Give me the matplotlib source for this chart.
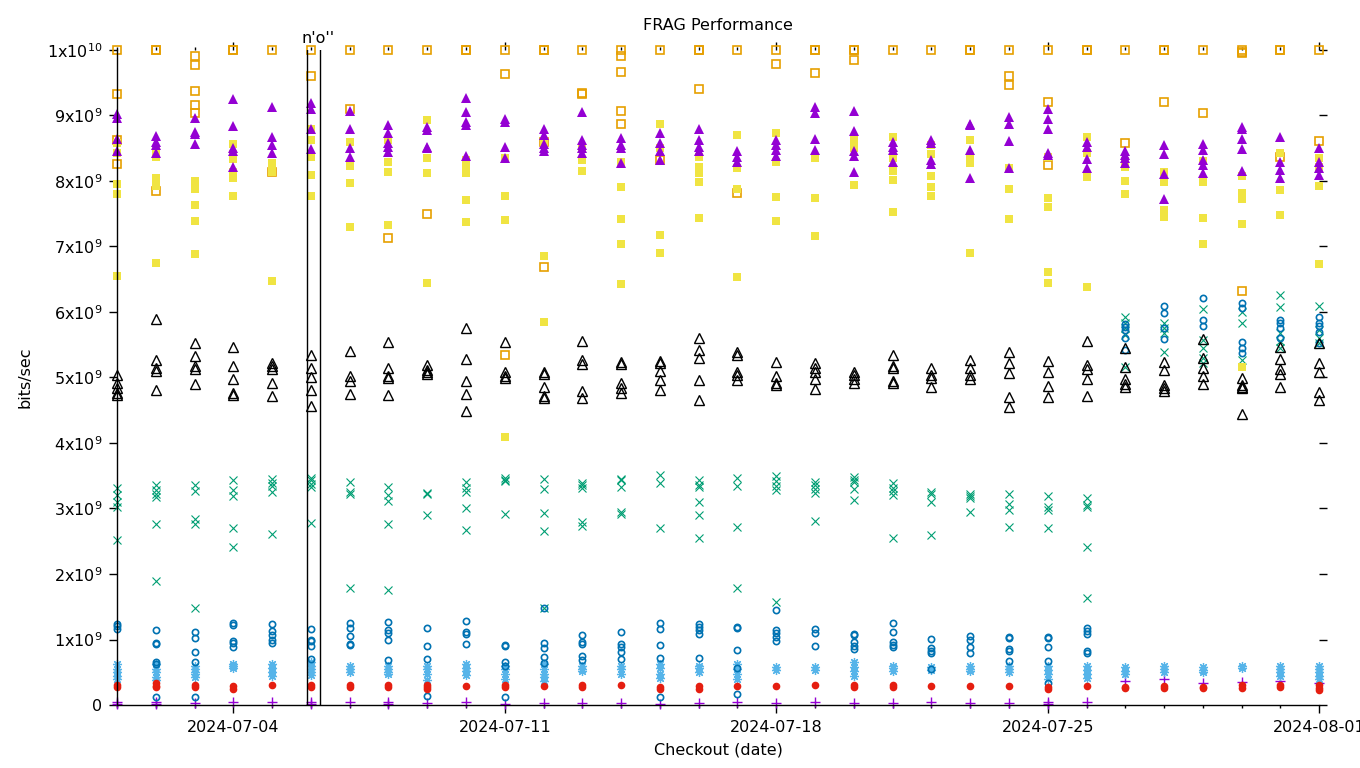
import numpy as np
import matplotlib
matplotlib.use("Agg")
import matplotlib.pyplot as plt
import matplotlib.dates as mdates
from datetime import datetime, timedelta

# one entry per checkout day, 2024-07-01 .. 2024-08-01, values in units of 1e9 bits/sec
days = [datetime(2024, 7, 1) + timedelta(days=i) for i in range(32)]

plus_purple = [[0.04, 0.02], [0.05, 0.02], [0.03], [0.04], [0.04], [0.04, 0.02], [0.04], [0.05, 0.02],
               [0.03], [0.05], [0.02], [0.03], [0.03], [0.03], [0.02], [0.03], [0.04], [0.03], [0.04],
               [0.03], [0.03], [0.04], [0.03], [0.03], [0.02, 0.04], [0.05], [0.37], [0.4], [0.34],
               [0.35], [0.37], [0.33]]

x_green = [[3.31, 3.2, 3.1, 3.03, 2.52], [3.36, 3.28, 3.22, 3.18, 2.76, 1.89], [3.36, 3.26, 2.84, 2.77, 1.48],
           [3.44, 3.28, 3.19, 2.7, 2.41], [3.45, 3.39, 3.35, 3.25, 2.61], [3.46, 3.43, 3.38, 3.33, 2.78],
           [3.4, 3.25, 3.22, 1.79], [3.33, 3.2, 3.12, 2.76, 1.76], [3.24, 3.22, 2.9],
           [3.4, 3.32, 3.25, 3.0, 2.67], [3.47, 3.44, 3.42, 2.92], [3.45, 3.3, 2.93, 2.66, 1.48],
           [3.39, 3.36, 3.31, 2.79, 2.74], [3.45, 3.43, 3.33, 2.94, 2.92], [3.51, 3.39, 2.7],
           [3.44, 3.36, 3.33, 3.1, 2.9, 2.55], [3.46, 3.35, 2.72, 1.79], [3.5, 3.42, 3.35, 3.28, 1.58],
           [3.4, 3.36, 3.3, 3.24, 2.81], [3.48, 3.44, 3.4, 3.3, 3.13], [3.39, 3.32, 3.26, 3.2, 2.55],
           [3.25, 3.22, 3.1, 2.6], [3.22, 3.19, 3.16, 2.95], [3.22, 3.07, 2.98, 2.72],
           [3.19, 3.02, 2.98, 2.7], [3.16, 3.05, 3.03, 2.41, 1.63], [5.93, 5.83, 5.75, 5.65, 5.16],
           [5.83, 5.75, 5.68, 5.39], [6.05, 5.57, 5.45, 5.3, 5.22], [6.0, 5.83, 5.27],
           [6.26, 6.08, 5.68, 5.55, 5.45], [6.09, 5.72, 5.6, 5.53]]

star_lightblue = [[0.63, 0.55, 0.5, 0.44, 0.4], [0.62, 0.55, 0.5, 0.43, 0.38], [0.6, 0.55, 0.5, 0.47, 0.43],
                  [0.63, 0.6, 0.56], [0.63, 0.56, 0.5, 0.44], [0.66, 0.6, 0.55, 0.5, 0.46], [0.6, 0.55, 0.5],
                  [0.6, 0.55, 0.5, 0.47], [0.6, 0.55, 0.48, 0.38], [0.63, 0.57, 0.52, 0.46],
                  [0.6, 0.55, 0.47, 0.4], [0.62, 0.55, 0.48, 0.43, 0.37], [0.6, 0.55, 0.52],
                  [0.6, 0.55, 0.48], [0.62, 0.56, 0.48, 0.42], [0.6, 0.56, 0.5], [0.62, 0.55, 0.47, 0.4],
                  [0.58, 0.54], [0.58, 0.53], [0.66, 0.58, 0.52, 0.45], [0.6, 0.56, 0.52], [0.58, 0.54],
                  [0.6, 0.55, 0.52], [0.6, 0.55, 0.5], [0.6, 0.54, 0.48, 0.4], [0.6, 0.53, 0.47, 0.42],
                  [0.58, 0.52, 0.48], [0.6, 0.55, 0.5], [0.58, 0.53, 0.5], [0.6, 0.56],
                  [0.6, 0.55, 0.5, 0.45], [0.6, 0.55, 0.5, 0.44, 0.4]]

sq_orange = [[10.0, 9.33, 8.62, 8.26], [10.0, 10.0, 7.85], [9.9, 9.77, 9.37, 9.16, 9.04], [10.0, 10.0],
             [10.0, 8.13], [10.0, 9.6], [10.0, 9.1], [10.0, 7.13], [10.0, 7.5], [10.0, 10.0],
             [10.0, 9.63, 5.34], [10.0, 10.0, 8.6, 6.69], [10.0, 9.35, 9.33], [10.0, 9.9, 9.66, 9.07, 8.87],
             [10.0, 8.32], [10.0, 10.0, 9.4], [10.0, 7.82], [10.0, 9.79], [10.0, 10.0, 9.65],
             [10.0, 10.0, 9.85], [10.0], [10.0], [10.0, 10.0], [10.0, 9.6, 9.47], [10.0, 9.2, 8.24],
             [10.0, 10.0], [10.0, 8.58], [10.0, 10.0, 9.2], [10.0, 9.04], [10.0, 9.97, 9.95, 6.32],
             [10.0, 10.0, 8.37], [10.0, 8.61]]

sq_yellow = [[8.58, 8.42, 7.95, 7.8, 6.55], [8.45, 8.37, 8.05, 7.92, 6.75], [8.0, 7.95, 7.88, 7.63, 7.39, 6.88],
             [8.56, 8.41, 8.33, 8.13, 8.05, 7.77], [8.27, 8.2, 8.14, 6.47], [8.8, 8.62, 8.37, 8.09, 7.77],
             [8.6, 8.23, 7.97, 7.3], [8.63, 8.29, 8.14, 7.33], [8.93, 8.35, 8.12, 6.44],
             [8.32, 8.22, 8.12, 7.71, 7.37], [8.35, 7.77, 7.4, 4.09], [8.6, 6.86, 5.85], [8.5, 8.32, 8.15],
             [8.29, 7.91, 7.42, 7.04, 6.43], [8.87, 8.5, 7.18, 6.9], [8.37, 8.22, 8.12, 7.98, 7.44],
             [8.7, 8.2, 7.88, 6.54], [8.73, 8.29, 7.76, 7.39], [8.35, 7.74, 7.16], [8.62, 8.5, 7.94],
             [8.67, 8.35, 8.15, 8.02, 7.53], [8.55, 8.41, 8.08, 7.91, 7.77], [8.62, 8.35, 8.28, 6.9],
             [8.2, 7.88, 7.42], [8.37, 7.74, 7.6, 6.61, 6.44], [8.67, 8.42, 8.06, 6.38], [8.3, 8.22, 8.0, 7.8],
             [8.14, 7.99, 7.55, 7.45], [8.3, 7.98, 7.44, 7.04], [8.08, 7.82, 7.73, 7.34, 5.16],
             [8.42, 7.86, 7.48], [8.35, 8.22, 7.92, 6.73]]

circ_blue = [[1.24, 1.2, 1.16], [1.15, 0.95, 0.93, 0.66, 0.62, 0.12], [1.12, 1.02, 0.81, 0.66, 0.12],
             [1.25, 1.22, 0.98, 0.95, 0.88], [1.23, 1.13, 1.07, 0.99, 0.95], [1.16, 1.0, 0.97, 0.9, 0.7],
             [1.25, 1.18, 1.05, 0.93, 0.92], [1.27, 1.15, 1.1, 0.99, 0.69], [1.17, 0.9, 0.71, 0.14],
             [1.28, 1.12, 1.09, 0.93], [0.92, 0.9, 0.66, 0.6, 0.13], [1.48, 0.94, 0.87, 0.73, 0.64],
             [1.07, 0.96, 0.93, 0.75, 0.69], [1.11, 0.93, 0.89, 0.81, 0.7], [1.25, 1.16, 0.92, 0.72, 0.13],
             [1.24, 1.19, 1.14, 1.08, 0.72], [1.19, 1.17, 0.84, 0.56, 0.17], [1.45, 1.15, 1.1, 1.04, 0.97],
             [1.16, 1.1, 0.9], [1.09, 1.07, 0.96, 0.9, 0.85], [1.25, 1.11, 0.96, 0.92, 0.89],
             [1.01, 0.87, 0.82, 0.79, 0.55], [1.06, 1.0, 0.89, 0.8], [1.04, 1.02, 0.86, 0.83, 0.67],
             [1.04, 1.03, 0.89, 0.67, 0.34], [1.17, 1.13, 1.09, 0.82, 0.8], [5.82, 5.77, 5.72, 5.6, 5.42],
             [6.09, 5.98, 5.75, 5.58], [6.22, 5.87, 5.79], [6.13, 6.06, 5.54, 5.45, 5.37],
             [5.88, 5.83, 5.76, 5.6], [5.92, 5.83, 5.78, 5.7, 5.52]]

circ_red = [[0.3, 0.27], [0.33, 0.29, 0.27], [0.3, 0.27], [0.29, 0.25], [0.3], [0.3, 0.27], [0.3, 0.28],
            [0.31, 0.27], [0.3, 0.27, 0.25], [0.29], [0.3, 0.28], [0.29], [0.3, 0.28], [0.3], [0.28, 0.25],
            [0.29, 0.25], [0.29], [0.29], [0.3], [0.3, 0.28], [0.3, 0.27], [0.29], [0.29], [0.29],
            [0.28, 0.25], [0.29], [0.28, 0.26], [0.29, 0.26], [0.28, 0.26], [0.3, 0.26], [0.3, 0.27],
            [0.3, 0.26, 0.23]]

tri_black = [[5.04, 4.92, 4.84, 4.76, 4.73], [5.9, 5.26, 5.15, 5.1, 4.81], [5.52, 5.33, 5.17, 5.13, 4.9],
             [5.47, 5.18, 4.97, 4.77, 4.74], [5.22, 5.17, 5.13, 4.92, 4.71], [5.34, 5.15, 5.0, 4.81, 4.56],
             [5.41, 5.02, 4.94, 4.75], [5.54, 5.15, 5.02, 4.99, 4.73], [5.19, 5.12, 5.08, 5.05],
             [5.76, 5.28, 4.95, 4.75, 4.49], [5.54, 5.08, 5.02, 4.99], [5.08, 5.05, 4.86, 4.71, 4.68],
             [5.56, 5.27, 5.2, 4.8, 4.69], [5.24, 5.2, 4.92, 4.84, 4.77], [5.25, 5.22, 5.1, 4.96, 4.81],
             [5.6, 5.42, 5.3, 4.96, 4.66], [5.39, 5.34, 5.08, 5.04, 4.96], [5.24, 5.02, 4.92, 4.89],
             [5.22, 5.15, 5.08, 4.98, 4.82], [5.08, 5.04, 4.98, 4.92], [5.34, 5.17, 5.14, 4.95, 4.92],
             [5.15, 5.04, 4.99, 4.86], [5.27, 5.15, 5.04, 4.98], [5.39, 5.22, 5.07, 4.7, 4.55],
             [5.25, 5.08, 4.87, 4.7], [5.56, 5.19, 5.13, 4.98, 4.72], [5.45, 5.16, 4.98, 4.9, 4.86],
             [5.24, 5.12, 4.89, 4.84, 4.8], [5.58, 5.3, 5.15, 5.02, 4.9], [4.99, 4.88, 4.86, 4.84, 4.45],
             [5.47, 5.28, 5.13, 5.05, 4.86], [5.52, 5.22, 5.08, 4.78, 4.66]]

tri_purple = [[9.02, 8.96, 8.64, 8.46], [8.69, 8.6, 8.55, 8.42], [8.96, 8.75, 8.72, 8.56],
              [9.25, 8.84, 8.5, 8.46, 8.22], [9.13, 8.67, 8.55, 8.43], [9.19, 9.1, 8.8, 8.49],
              [9.07, 8.8, 8.5, 8.37], [8.85, 8.73, 8.58, 8.52, 8.44], [8.82, 8.78, 8.52, 8.5],
              [9.27, 9.05, 8.9, 8.86, 8.38], [8.95, 8.9, 8.52, 8.35], [8.8, 8.7, 8.57, 8.5, 8.45],
              [9.05, 8.62, 8.55, 8.5, 8.42], [8.65, 8.55, 8.5, 8.28], [8.73, 8.58, 8.45, 8.32],
              [8.8, 8.62, 8.52, 8.45], [8.45, 8.37, 8.29], [8.62, 8.55, 8.47, 8.38], [9.13, 9.04, 8.64, 8.47],
              [9.07, 8.76, 8.46, 8.38, 8.14], [8.6, 8.52, 8.47, 8.29], [8.62, 8.58, 8.32, 8.26],
              [8.87, 8.85, 8.47, 8.05], [8.98, 8.87, 8.61, 8.2], [9.1, 8.95, 8.79, 8.43, 8.4],
              [8.6, 8.52, 8.33, 8.2], [8.45, 8.4, 8.35, 8.28], [8.55, 8.41, 8.1, 7.73],
              [8.56, 8.47, 8.32, 8.25, 8.12], [8.82, 8.8, 8.64, 8.49, 8.15], [8.67, 8.29, 8.17, 8.05],
              [8.5, 8.29, 8.2, 8.09]]

y_ticks = list(range(0, 11))
y_labels = ["0"] + [r"$\mathregular{%dx10^{9}}$" % i for i in range(1, 10)] + [r"$\mathregular{1x10^{10}}$"]

# event markers
event_start = datetime(2024, 7, 5, 21, 40)
event_end = datetime(2024, 7, 6, 5, 40)
event_label = "n'o''"


def flatten(series):
    xs, ys = [], []
    for day, vals in zip(days, series):
        for v in vals:
            xs.append(day)
            ys.append(v * 1e9)
    return xs, ys


plt.rcParams['font.family'] = ['DejaVu Sans']
fig = plt.figure(figsize=(13.6, 7.68), dpi=100)
ax = fig.add_axes([0.086, 0.082, 0.884, 0.853])

styles = [
    (plus_purple, dict(marker='+', color='#9400D3', ms=7, mew=1.0)),
    (x_green, dict(marker='x', color='#009E73', ms=5.5, mew=0.8)),
    (star_lightblue, dict(marker=(8, 2, 0), color='#56B4E9', ms=6.5, mew=0.9)),
    (sq_orange, dict(marker='s', color='#E69F00', mfc='none', ms=5.5, mew=1.2)),
    (sq_yellow, dict(marker='s', color='#F0E442', ms=6, mew=0)),
    (circ_blue, dict(marker='o', color='#0072B2', mfc='none', ms=4.5, mew=1.2)),
    (circ_red, dict(marker='o', color='#E51E10', ms=5.5, mew=0)),
    (tri_black, dict(marker='^', color='black', mfc='none', ms=6.5, mew=1.0)),
    (tri_purple, dict(marker='^', color='#9400D3', ms=7, mew=0)),
]
for data, st in styles:
    xs, ys = flatten(data)
    ax.plot(xs, ys, ls='none', clip_on=False, **st)

ax.axvline(event_start, color='black', lw=1)
ax.axvline(event_end, color='black', lw=1)
ax.annotate(event_label, xy=(event_start, 1.0), xycoords=('data', 'axes fraction'),
            xytext=(-4, 3), textcoords='offset points', ha='left', va='bottom', fontsize=11.5)

ax.set_xlim(days[0], days[-1])
ax.set_ylim(0, 1e10)
ax.set_yticks([t * 1e9 for t in y_ticks])
ax.set_yticklabels(y_labels)

ax.xaxis.set_major_locator(mdates.WeekdayLocator(byweekday=mdates.TH))
ax.xaxis.set_major_formatter(mdates.DateFormatter('%Y-%m-%d'))
ax.xaxis.set_minor_locator(mdates.DayLocator())

for side in ['top', 'right']:
    ax.spines[side].set_visible(False)
for side in ['left', 'bottom']:
    ax.spines[side].set_linewidth(1.0)

ax.tick_params(which='major', direction='out', length=5.5, width=1, labelsize=11.5,
               top=True, right=True, pad=5)
ax.tick_params(which='minor', direction='out', length=2.5, width=1, top=True)
ax.tick_params(axis='y', which='minor', left=False, right=False)

ax.set_title("FRAG Performance", fontsize=11.5, pad=14)
ax.set_xlabel("Checkout (date)", fontsize=11.5, labelpad=6)
ax.set_ylabel("bits/sec", fontsize=11.5, labelpad=10)

fig.savefig("out.png", dpi=100)
